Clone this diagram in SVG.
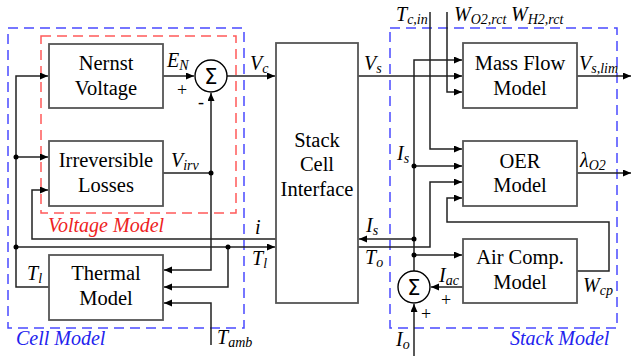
<svg xmlns="http://www.w3.org/2000/svg" width="632" height="356" viewBox="0 0 632 356">
<defs>
<marker id="arr" markerUnits="userSpaceOnUse" markerWidth="9" markerHeight="8" refX="8" refY="3.5" orient="auto">
<path d="M0,0 L8,3.5 L0,7 z" fill="#000"/>
</marker>
<style>
.box{fill:#fff;stroke:#555;stroke-width:1.8}
.sum{fill:#fff;stroke:#000;stroke-width:1.4}
.ar{fill:none;stroke:#222;stroke-width:1.5;marker-end:url(#arr)}
.dot{fill:#000}
text{font-family:'Liberation Serif','DejaVu Serif',serif}
.t{font-size:20.5px;fill:#000;text-anchor:middle}
.m{font-size:20px;font-style:italic;fill:#000}
.s{font-size:14px}
.sg{font-size:18px;fill:#000}
.sig{font-family:'DejaVu Sans',sans-serif;font-size:21px;fill:#000;text-anchor:middle}
.blue{fill:none;stroke:#4a4aff;stroke-width:1.5;stroke-dasharray:10,6}
.red{fill:none;stroke:#ff5a5a;stroke-width:1.5;stroke-dasharray:10,6}
.bl{font-size:20px;font-style:italic;fill:#2222ee}
.rl{font-size:20px;font-style:italic;fill:#ee2222}
</style>
</defs>
<rect width="632" height="356" fill="#fff"/>
<g id="cell-model"><rect class="blue" x="8" y="28" width="236" height="300"/><text class="bl" x="16" y="345" font-family="Liberation Serif">Cell Model</text></g>
<g id="voltage-model"><rect class="red" x="41" y="36" width="195" height="177"/><text class="rl" x="48" y="232" font-family="Liberation Serif">Voltage Model</text></g>
<g id="stack-model"><rect class="blue" x="390" y="28" width="227" height="300"/><text class="bl" x="510" y="345" font-family="Liberation Serif">Stack Model</text></g>
<g id="connectors">
<path class="ar" d="M49,287 H16 V76 H48"/>
<path class="ar" d="M16,157 H48"/>
<path class="ar" d="M16,247 H275"/>
<path class="ar" d="M276,239 H32 V190 H48"/>
<path class="ar" d="M163,76 H194"/>
<path class="ar" d="M227,76 H275"/>
<path class="ar" d="M163,173 H211 V93"/>
<path class="ar" d="M211,173 V270 H164"/>
<path class="ar" d="M228,247 V287 H164"/>
<path class="ar" d="M211,345 V303 H164"/>
<path class="ar" d="M358,76 H462"/>
<path class="ar" d="M577,76 H631"/>
<path class="ar" d="M577,173 H631"/>
<path class="ar" d="M414,271 V60 H462"/>
<path class="ar" d="M414,166 H462"/>
<path class="ar" d="M414,239 H359"/>
<path class="ar" d="M414,255 H462"/>
<path class="ar" d="M430,12 V149 H462"/>
<path class="ar" d="M447,12 V92 H462"/>
<path class="ar" d="M358,247 H430 V182 H462"/>
<path class="ar" d="M577,271 H609 V222 H447 V198 H462"/>
<path class="ar" d="M463,287 H431"/>
<path class="ar" d="M414,356 V304"/>
<circle class="dot" cx="16" cy="157" r="2.5"/>
<circle class="dot" cx="16" cy="247" r="2.5"/>
<circle class="dot" cx="211" cy="173" r="2.5"/>
<circle class="dot" cx="228" cy="247" r="2.5"/>
<circle class="dot" cx="414" cy="166" r="2.5"/>
<circle class="dot" cx="414" cy="239" r="2.5"/>
<circle class="dot" cx="414" cy="255" r="2.5"/>
</g>
<g id="nernst"><rect class="box" x="49" y="44" width="114" height="64"/><text class="t" x="106" y="70">Nernst</text><text class="t" x="106" y="95">Voltage</text></g>
<g id="irreversible"><rect class="box" x="49" y="141" width="114" height="65"/><text class="t" x="106" y="167">Irreversible</text><text class="t" x="106" y="192">Losses</text></g>
<g id="thermal"><rect class="box" x="49" y="255" width="114" height="65"/><text class="t" x="106" y="280">Thermal</text><text class="t" x="106" y="305">Model</text></g>
<g id="sum1"><circle class="sum" cx="211" cy="76" r="16"/><text class="sig" x="211" y="84">Σ</text></g>
<g id="stack-interface"><rect class="box" x="276" y="43" width="82" height="260"/><text class="t" x="317" y="147">Stack</text><text class="t" x="317" y="171">Cell</text><text class="t" x="317" y="196">Interface</text></g>
<g id="mass-flow"><rect class="box" x="463" y="43" width="114" height="65"/><text class="t" x="520" y="70">Mass Flow</text><text class="t" x="520" y="95">Model</text></g>
<g id="oer"><rect class="box" x="463" y="141" width="114" height="65"/><text class="t" x="520" y="168">OER</text><text class="t" x="520" y="192">Model</text></g>
<g id="air-comp"><rect class="box" x="463" y="239" width="114" height="64"/><text class="t" x="520" y="264">Air Comp.</text><text class="t" x="520" y="289">Model</text></g>
<g id="sum2"><circle class="sum" cx="414" cy="287" r="16"/><text class="sig" x="414" y="295">Σ</text></g>
<g id="labels">
<text class="m" x="167" y="67">E<tspan class="s" dy="3">N</tspan></text>
<text class="sg" x="177" y="96">+</text>
<text class="sg" x="198" y="108">-</text>
<text class="m" x="250" y="70">V<tspan class="s" dy="3">c</tspan></text>
<text class="m" x="171" y="167">V<tspan class="s" dy="3">irv</tspan></text>
<text class="m" x="255" y="234">i</text>
<text class="m" x="252" y="265">T<tspan class="s" dy="3">l</tspan></text>
<text class="m" x="27" y="280">T<tspan class="s" dy="3">l</tspan></text>
<text class="m" x="217" y="344">T<tspan class="s" dy="3">amb</tspan></text>
<text class="m" x="364" y="70">V<tspan class="s" dy="3">s</tspan></text>
<text class="m" x="396" y="21">T<tspan class="s" dy="3">c,in</tspan></text>
<text class="m" x="454" y="21">W<tspan class="s" dy="3">O2,rct</tspan></text>
<text class="m" x="511" y="21">W<tspan class="s" dy="3">H2,rct</tspan></text>
<text class="m" x="579" y="70">V<tspan class="s" dy="3">s,lim</tspan></text>
<text class="m" x="580" y="167">λ<tspan class="s" dy="3">O2</tspan></text>
<text class="m" x="397" y="160">I<tspan class="s" dy="3">s</tspan></text>
<text class="m" x="366" y="232">I<tspan class="s" dy="3">s</tspan></text>
<text class="m" x="365" y="264">T<tspan class="s" dy="3">o</tspan></text>
<text class="m" x="439" y="282">I<tspan class="s" dy="3">ac</tspan></text>
<text class="sg" x="441" y="306">+</text>
<text class="sg" x="421" y="320">+</text>
<text class="m" x="396" y="346">I<tspan class="s" dy="3">o</tspan></text>
<text class="m" x="583" y="292">W<tspan class="s" dy="3">cp</tspan></text>
</g>
</svg>
